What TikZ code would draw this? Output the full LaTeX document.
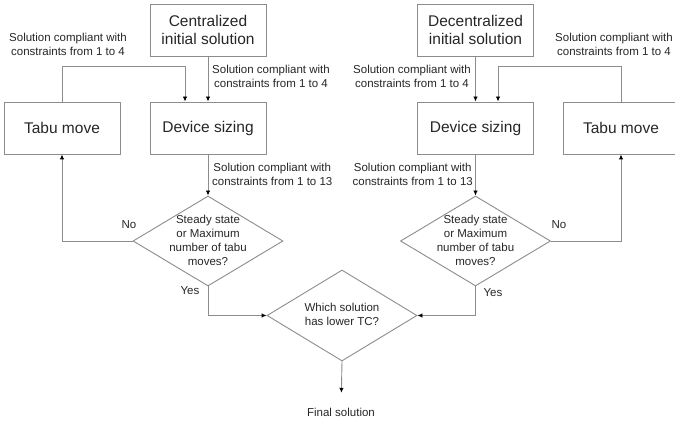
\documentclass[tikz,border=0pt]{standalone}
\usepackage{fontspec}
\setmainfont{Liberation Sans}
\usetikzlibrary{shapes.geometric,arrows.meta}
\definecolor{linegray}{HTML}{8C8C8C}
\definecolor{textgray}{HTML}{262626}

\begin{document}
\begin{tikzpicture}[x=1pt, y=-1pt,
  box/.style={draw=linegray, line width=0.9pt, minimum width=116pt, minimum height=52pt,
    align=center, text=textgray, font=\fontsize{15.5}{18}\selectfont},
  chk/.style={draw=linegray, line width=0.9pt, diamond, minimum width=150pt,
    minimum height=90pt, inner sep=0pt},
  small/.style={align=center, inner sep=0pt, text=textgray, font=\fontsize{11.5}{14}\selectfont},
  flow/.style={draw=linegray, line width=0.9pt, -{Latex[length=5pt,width=4.5pt,color=black]}}]
\useasboundingbox (0,0) rectangle (675,425);
\clip (0,0) rectangle (675,425);

\def\SolFour{Solution compliant with\\constraints from 1 to 4}
\def\SolThirteen{Solution compliant with\\constraints from 1 to 13}
\def\Steady{Steady state\\or Maximum\\number of tabu\\moves?}

%centralized branch
\node[box] (cen) at (208,30) {Centralized\\initial solution};
\node[box] (devL) at (208,128) {Device sizing};
\node[box] (tabL) at (62,128) {Tabu move};
\node[chk] (chkL) at (208,241) {};
\node[small] (chkLt) at (208,240) {\Steady};

%decentralized branch
\node[box] (dcen) at (475.5,30) {Decentralized\\initial solution};
\node[box] (devR) at (475.5,128) {Device sizing};
\node[box] (tabR) at (621,128) {Tabu move};
\node[chk] (chkR) at (475.5,241) {};
\node[small] (chkRt) at (475.5,240) {\Steady};

%final choice
\node[chk, minimum height=91pt] (pick) at (342,315.5) {};
\node[small] (pickt) at (342,314) {Which solution\\has lower TC?};
\node[small, inner sep=3.8pt] (fin) at (341,412) {Final solution};

%labels
\node[small] (solL) at (68,44) {\SolFour};
\node[small, anchor=west] (solLa) at (212,76) {\SolFour};
\node[small, anchor=west] (solLb) at (212,174) {\SolThirteen};
\node[small] (solR) at (614,44) {\SolFour};
\node[small, anchor=east] (solRa) at (471,76) {\SolFour};
\node[small, anchor=east] (solRb) at (473,174) {\SolThirteen};
\node[small] (noL) at (129,225) {No};
\node[small] (yesL) at (190,291) {Yes};
\node[small] (noR) at (559,225) {No};
\node[small] (yesR) at (493,293) {Yes};

%connectors
\draw[flow] (cen) -- (devL);
\draw[flow] (tabL.north) -- ++(0,-35) -| ([xshift=-23pt]devL.north);
\draw[flow] (devL) -- (chkL);
\draw[flow] (chkL.west) -| (tabL.south);
\draw[flow] (chkL.south) |- (pick.west);

\draw[flow] (dcen) -- (devR);
\draw[flow] (tabR.north) -- ++(0,-35) -| ([xshift=22.5pt]devR.north);
\draw[flow] (devR) -- (chkR);
\draw[flow] (chkR.east) -| (tabR.south);
\draw[flow] (chkR.south) |- (pick.east);

\draw[flow, shorten >=11pt] (pick.south) -- (fin);
\end{tikzpicture}
\end{document}
